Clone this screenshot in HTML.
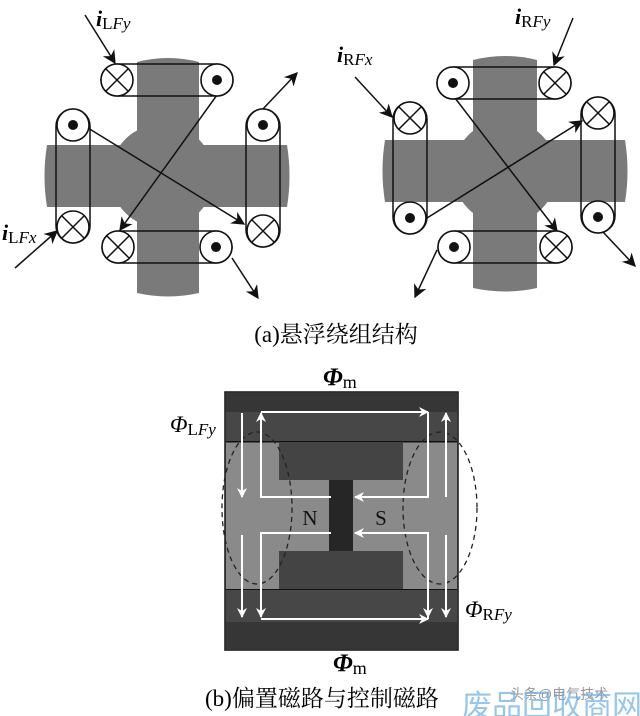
<!DOCTYPE html>
<html><head><meta charset="utf-8"><style>
body{margin:0;background:#fff;}
svg{display:block;}
</style></head><body>
<svg width="640" height="716" viewBox="0 0 640 716" xmlns="http://www.w3.org/2000/svg" font-family="Liberation Serif, serif">
<defs>
<marker id="a" viewBox="0 0 10 10" refX="9" refY="5" markerWidth="9" markerHeight="9" orient="auto-start-reverse"><path d="M0,0 L10,5 L0,10 L3,5 z" fill="#111"/></marker>
<marker id="w" viewBox="0 0 10 10" refX="9" refY="5" markerWidth="5" markerHeight="5" orient="auto-start-reverse"><path d="M0,0 L10,5 L0,10 L3,5 z" fill="#fff"/></marker>
<g id="cx"><circle r="16" fill="#fff" stroke="#111" stroke-width="1.6"/><path d="M-11,-11 L11,11 M11,-11 L-11,11" stroke="#111" stroke-width="1.5"/></g>
<g id="cd"><circle r="16" fill="#fff" stroke="#111" stroke-width="1.6"/><circle r="5" fill="#111"/></g>
</defs>
<rect width="640" height="716" fill="#fff"/>

<!-- LEFT figure -->
<g fill="#7a7a7a">
<path d="M137,62 Q168,54 199,62 L199,293 Q168,300 137,293 Z"/>
<path d="M47,145 L287,145 Q292,176 287,207 L47,207 Q42,176 47,145 Z"/>
<circle cx="162" cy="176" r="52"/>
</g>
<g fill="none" stroke="#111" stroke-width="1.5">
<rect x="101" y="64" width="132" height="32" rx="16"/>
<rect x="56" y="109" width="34" height="134" rx="17"/>
<rect x="246" y="109" width="34" height="138" rx="17"/>
<rect x="102" y="231" width="130" height="32" rx="16"/>
<line x1="88" y1="128" x2="244" y2="224" marker-end="url(#a)"/>
<line x1="217" y1="95" x2="120" y2="230" marker-end="url(#a)"/>
<line x1="262" y1="110" x2="297" y2="73" marker-end="url(#a)"/>
<line x1="232" y1="258" x2="258" y2="298" marker-end="url(#a)"/>
<line x1="85" y1="15" x2="115" y2="63" marker-end="url(#a)"/>
<line x1="15" y1="268" x2="57" y2="231" marker-end="url(#a)"/>
</g>
<use href="#cx" x="117" y="80"/><use href="#cd" x="217" y="80"/>
<use href="#cd" x="73" y="125"/><use href="#cx" x="73" y="227"/>
<use href="#cd" x="263" y="125"/><use href="#cx" x="263" y="231"/>
<use href="#cx" x="118" y="247"/><use href="#cd" x="216" y="247"/>
<text x="96" y="26" font-size="22" font-weight="bold" font-style="italic">i<tspan font-size="17" font-weight="normal" font-style="normal" dy="3">L</tspan><tspan font-size="17" font-weight="normal" dy="0">Fy</tspan></text>
<text x="2" y="240" font-size="22" font-weight="bold" font-style="italic">i<tspan font-size="17" font-weight="normal" font-style="normal" dy="3">L</tspan><tspan font-size="17" font-weight="normal">Fx</tspan></text>

<!-- RIGHT figure -->
<g fill="#7a7a7a">
<path d="M473,60 Q505,52 537,60 L537,288 Q505,295 473,288 Z"/>
<path d="M385,140 L625,140 Q630,171 625,202 L385,202 Q380,171 385,140 Z"/>
<circle cx="505" cy="172" r="52"/>
</g>
<g fill="none" stroke="#111" stroke-width="1.5">
<rect x="437" y="67" width="134" height="32" rx="16"/>
<rect x="393" y="102" width="34" height="132" rx="17"/>
<rect x="581" y="97" width="34" height="136" rx="17"/>
<rect x="438" y="231" width="134" height="32" rx="16"/>
<line x1="427" y1="218" x2="582" y2="121" marker-end="url(#a)"/>
<line x1="455" y1="98" x2="557" y2="231" marker-end="url(#a)"/>
<line x1="573" y1="18" x2="554" y2="65" marker-end="url(#a)"/>
<line x1="355" y1="77" x2="392" y2="117" marker-end="url(#a)"/>
<line x1="437" y1="250" x2="415" y2="297" marker-end="url(#a)"/>
<line x1="603" y1="232" x2="635" y2="266" marker-end="url(#a)"/>
</g>
<use href="#cd" x="453" y="83"/><use href="#cx" x="555" y="83"/>
<use href="#cx" x="410" y="118"/><use href="#cd" x="410" y="218"/>
<use href="#cx" x="598" y="113"/><use href="#cd" x="598" y="217"/>
<use href="#cd" x="454" y="247"/><use href="#cx" x="556" y="247"/>
<text x="515" y="24" font-size="22" font-weight="bold" font-style="italic">i<tspan font-size="17" font-weight="normal" font-style="normal" dy="3">R</tspan><tspan font-size="17" font-weight="normal">Fy</tspan></text>
<text x="337" y="62" font-size="22" font-weight="bold" font-style="italic">i<tspan font-size="17" font-weight="normal" font-style="normal" dy="3">R</tspan><tspan font-size="17" font-weight="normal">Fx</tspan></text>

<text x="336" y="342" font-size="23" text-anchor="middle" font-family="Liberation Serif, Noto Serif CJK SC, serif">(a)悬浮绕组结构</text>

<!-- BOTTOM figure -->
<rect x="225" y="392" width="233" height="258" fill="#8a8a8a" stroke="#111" stroke-width="1.5"/>
<rect x="226" y="393" width="231" height="19" fill="#363636"/>
<rect x="226" y="412" width="231" height="29" fill="#474747"/>
<rect x="226" y="441" width="231" height="1.5" fill="#111"/>
<rect x="226" y="589" width="231" height="1.5" fill="#111"/>
<rect x="226" y="590" width="231" height="32" fill="#474747"/>
<rect x="226" y="622" width="231" height="27" fill="#363636"/>
<rect x="279" y="442" width="124" height="38" fill="#444"/>
<rect x="279" y="551" width="124" height="38" fill="#444"/>
<rect x="329" y="480" width="24" height="71" fill="#262626"/>
<g fill="none" stroke="#222" stroke-width="1.3" stroke-dasharray="5,4">
<ellipse cx="257" cy="508" rx="35" ry="76"/>
<ellipse cx="440" cy="508" rx="37" ry="76"/>
</g>
<g fill="none" stroke="#fff" stroke-width="2">
<line x1="242" y1="413" x2="242" y2="497" marker-end="url(#w)"/>
<line x1="242" y1="535" x2="242" y2="617" marker-end="url(#w)"/>
<line x1="446" y1="497" x2="446" y2="413" marker-end="url(#w)"/>
<line x1="446" y1="535" x2="446" y2="617" marker-end="url(#w)"/>
<polyline points="331,497 261,497 261,413" marker-end="url(#w)"/>
<polyline points="261,412 428,412" marker-end="url(#w)"/>
<polyline points="428,412 428,497 355,497" marker-end="url(#w)"/>
<polyline points="331,533 261,533 261,617" marker-end="url(#w)"/>
<polyline points="261,619 428,619" marker-end="url(#w)"/>
<polyline points="428,619 428,533 355,533" marker-end="url(#w)"/>
<line x1="428" y1="533" x2="428" y2="617" marker-end="url(#w)"/>
</g>
<text x="310" y="525" font-size="21" text-anchor="middle" fill="#111">N</text>
<text x="381" y="525" font-size="21" text-anchor="middle" fill="#111">S</text>
<text x="323" y="385" font-size="25" font-style="italic" font-weight="bold">Φ<tspan font-size="18" font-weight="normal" font-style="normal" dy="3">m</tspan></text>
<text x="333" y="671" font-size="25" font-style="italic" font-weight="bold">Φ<tspan font-size="18" font-weight="normal" font-style="normal" dy="3">m</tspan></text>
<text x="170" y="432" font-size="23" font-style="italic">Φ<tspan font-size="17" font-style="normal" dy="3">L</tspan><tspan font-size="17">Fy</tspan></text>
<text x="465" y="617" font-size="23" font-style="italic">Φ<tspan font-size="17" font-style="normal" dy="3">R</tspan><tspan font-size="17">Fy</tspan></text>
<text x="205" y="706" font-size="23" font-family="Liberation Serif, Noto Serif CJK SC, serif">(b)偏置磁路与控制磁路</text>
<text x="510" y="699" font-size="14" fill="#999" font-family="Liberation Sans, Noto Sans CJK SC, sans-serif">头条@电气技术</text>
<text x="462" y="716" font-size="30" fill="#6aaee0" opacity="0.7" font-family="Liberation Sans, Noto Sans CJK SC, sans-serif">废品回收商网</text>
</svg>
</body></html>
